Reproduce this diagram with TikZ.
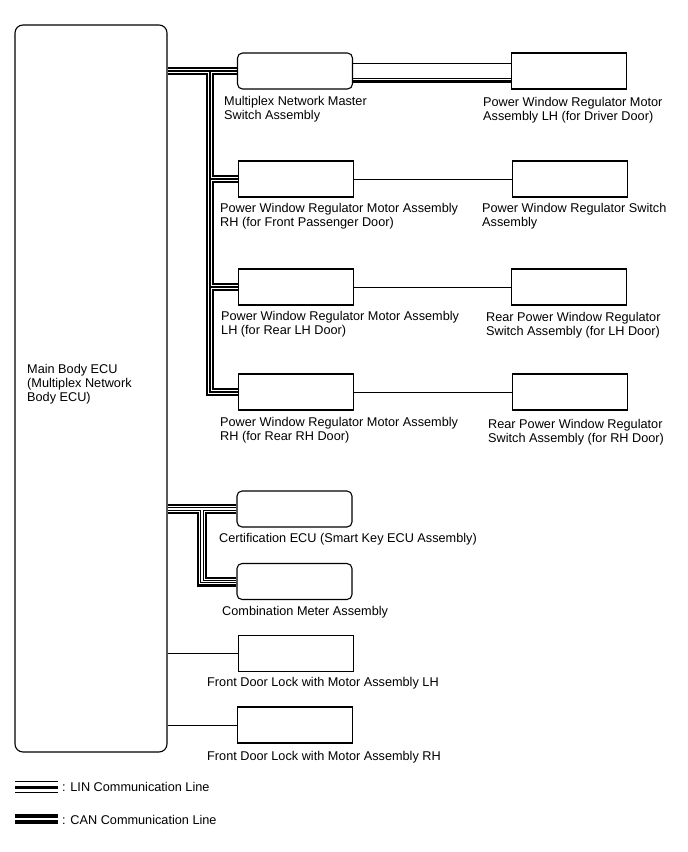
\documentclass[tikz,border=0pt]{standalone}
\usepackage{fontspec}
\setmainfont{Liberation Sans}
\usetikzlibrary{positioning,calc,backgrounds}

\begin{document}
\begin{tikzpicture}
    [
      x=1pt, y=-1pt,
      unit/.style={draw, fill=white, line width=1.1pt, minimum width=115pt, minimum height=36pt, inner sep=0pt},
      rounded unit/.style={unit, rounded corners=5pt},
      tag/.style={anchor=base west, align=left, inner sep=0pt, font=\fontsize{12.7}{14}\selectfont},
      wire/.style={line width=1pt}
    ]
    \useasboundingbox (0,0) rectangle (688,852);
    % units
    \node (ecu) [unit, rounded corners=8pt, minimum width=152pt, minimum height=727pt] at (91,388.5) {};
    \node (mswitch) [rounded unit] at (295,71) {};
    \node (drvmotor) [right=157.5pt of mswitch, unit] {};
    \node (fpmotor) [unit] at (296,179) {};
    \node (pwswitch) [right=158pt of fpmotor, unit] {};
    \node (rlmotor) [unit] at (296,287) {};
    \node (rlswitch) [right=157pt of rlmotor, unit] {};
    \node (rrmotor) [unit] at (296,392) {};
    \node (rrswitch) [right=158pt of rrmotor, unit] {};
    \node (certecu) [rounded unit] at (294.5,509) {};
    \node (combmeter) [rounded unit] at (294.5,581.5) {};
    \node (doorlh) [unit] at (296,653.5) {};
    \node (doorrh) [unit] at (295,725) {};
    % labels (base = last line)
    \node (ecutag) [tag] at (27,401.5) {Main Body ECU\\(Multiplex Network\\Body ECU)};
    \node (mstag) [tag] at (224,119.5) {Multiplex Network Master\\Switch Assembly};
    \node (drvtag) [tag] at (483,120) {Power Window Regulator Motor\\Assembly LH (for Driver Door)};
    \node (fptag) [tag] at (220,226.5) {Power Window Regulator Motor Assembly\\RH (for Front Passenger Door)};
    \node (pwstag) [tag] at (482,226.5) {Power Window Regulator Switch\\Assembly};
    \node (rltag) [tag] at (221,334.5) {Power Window Regulator Motor Assembly\\LH (for Rear LH Door)};
    \node (rlstag) [tag] at (486,335.5) {Rear Power Window Regulator\\Switch Assembly (for LH Door)};
    \node (rrtag) [tag] at (220,440.5) {Power Window Regulator Motor Assembly\\RH (for Rear RH Door)};
    \node (rrstag) [tag] at (488,442.5) {Rear Power Window Regulator\\Switch Assembly (for RH Door)};
    \node (certtag) [tag] at (219,542.5) {Certification ECU (Smart Key ECU Assembly)};
    \node (combtag) [tag] at (222,615.5) {Combination Meter Assembly};
    \node (doorlhtag) [tag] at (207,686.5) {Front Door Lock with Motor Assembly LH};
    \node (doorrhtag) [tag] at (207,760.5) {Front Door Lock with Motor Assembly RH};
    % legend
    \node (linkey) [tag] at (62,791.5) {: LIN Communication Line};
    \node (cankey) [tag] at (62,824.5) {: CAN Communication Line};
    \coordinate (linend) at (15,787);
    \coordinate (canend) at (15,819);
    \draw [line width=1pt] ([yshift=5.5pt]linend) -- ([yshift=5.5pt]linend -| 58,0);
    \draw [line width=3pt] (linend) -- (linend -| 58,0);
    \draw [line width=1pt] ([yshift=-5.5pt]linend) -- ([yshift=-5.5pt]linend -| 58,0);
    \draw [line width=3.5pt] ([yshift=3pt]canend) -- ([yshift=3pt]canend -| 58,0);
    \draw [line width=3.5pt] ([yshift=-3pt]canend) -- ([yshift=-3pt]canend -| 58,0);
    % lines
    \begin{scope}[on background layer]
      \coordinate (linbus) at (mswitch.west -| 210,0);
      \coordinate (canbus) at (certecu.west -| 202,0);
      \foreach \w/\c in {7.6/black, 4.8/white, 2.6/black} {
        \draw [line width=\w pt, draw=\c] (ecu.east |- mswitch.west) -- (mswitch.west);
        \draw [line width=\w pt, draw=\c] (linbus) |- (rrmotor.west);
        \draw [line width=\w pt, draw=\c] (linbus |- fpmotor.west) -- (fpmotor.west);
        \draw [line width=\w pt, draw=\c] (linbus |- rlmotor.west) -- (rlmotor.west);
      }
      \foreach \w/\c in {10/black, 5.4/white, 3.2/black, 1.2/white} {
        \draw [line width=\w pt, draw=\c] (ecu.east |- certecu.west) -- (certecu.west);
        \draw [line width=\w pt, draw=\c] (canbus) |- (combmeter.west);
      }
      \draw [wire] ([yshift=8pt]mswitch.east) -- ([yshift=8pt]mswitch.east -| drvmotor.west);
      \draw [wire] ([yshift=-7pt]mswitch.east) -- ([yshift=-7pt]mswitch.east -| drvmotor.west);
      \draw [line width=2.4pt] ([yshift=-10.5pt]mswitch.east) -- ([yshift=-10.5pt]mswitch.east -| drvmotor.west);
      \foreach \i/\j in {fpmotor/pwswitch, rlmotor/rlswitch, rrmotor/rrswitch}
        \draw [wire] (\i.east) -- (\j.west);
      \draw [wire] (ecu.east |- doorlh.west) -- (doorlh.west);
      \draw [wire] (ecu.east |- doorrh.west) -- (doorrh.west);
    \end{scope}
\end{tikzpicture}
\end{document}
